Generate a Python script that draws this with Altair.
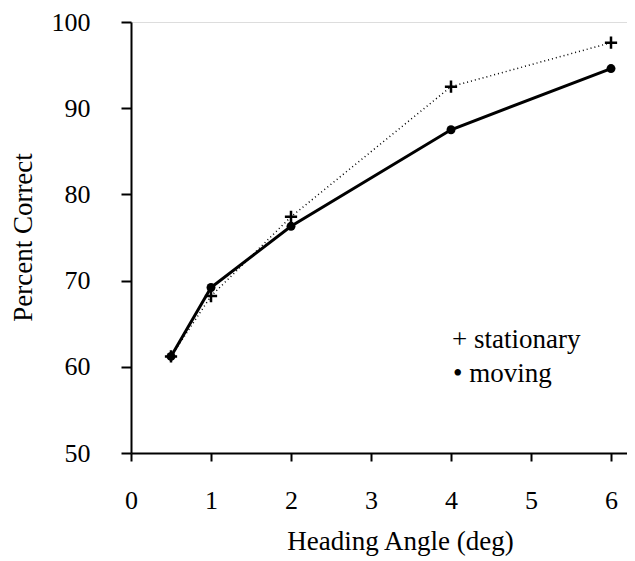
import altair as alt
import pandas as pd

angles = [0.5, 1, 2, 4, 6]
stationary = [61.2, 68.2, 77.4, 92.5, 97.6]
moving = [61.2, 69.2, 76.3, 87.5, 94.6]
x_ticks = [0, 1, 2, 3, 4, 5, 6]
y_ticks = [50, 60, 70, 80, 90, 100]

df = pd.DataFrame({"angle": angles, "stationary": stationary, "moving": moving})

FONT = "Liberation Serif"

x_enc = alt.X(
    "angle:Q",
    scale=alt.Scale(domain=[0, 6.2], nice=False, zero=False),
    axis=alt.Axis(
        values=x_ticks, title="Heading Angle (deg)", grid=False,
        tickSize=8, labelPadding=26, labelFontSize=26, labelFont=FONT,
        titleFont=FONT, titleFontSize=27, titleFontWeight="normal",
        titleX=269, titleY=96, titleAlign="center", titleBaseline="alphabetic",
        domainColor="black", tickColor="black", labelColor="black", titleColor="black",
        domainWidth=2, tickWidth=2, labelFlush=False,
    ),
)

def y_enc(field):
    return alt.Y(
        f"{field}:Q",
        scale=alt.Scale(domain=[50, 100], nice=False, zero=False),
        axis=alt.Axis(
            values=y_ticks, title="Percent Correct", grid=False,
            tickSize=10, labelPadding=31, labelFontSize=26, labelFont=FONT,
            titleFont=FONT, titleFontSize=27, titleFontWeight="normal",
            titleX=-108, titleY=215, titleAngle=-90, titleAlign="center",
            titleBaseline="middle",
            domainColor="black", tickColor="black", labelColor="black", titleColor="black",
            domainWidth=2, tickWidth=2, labelFlush=False,
        ),
    )

base = alt.Chart(df)

stat_line = base.mark_line(color="black", strokeWidth=1.5, strokeDash=[1, 3]).encode(
    x=x_enc, y=y_enc("stationary")
)
stat_pts = base.mark_point(
    shape="M-1,0L1,0M0,-1L0,1", filled=False, color="black", strokeWidth=2.5, size=150, opacity=1
).encode(x=x_enc, y=y_enc("stationary"))

mov_line = base.mark_line(color="black", strokeWidth=3).encode(x=x_enc, y=y_enc("moving"))
mov_pts = base.mark_point(shape="circle", filled=True, color="black", size=80, opacity=1).encode(
    x=x_enc, y=y_enc("moving")
)

legend1 = alt.Chart(pd.DataFrame({"label": ["+ stationary"]})).mark_text(
    font=FONT, fontSize=27, align="left", baseline="alphabetic", color="black"
).encode(text="label:N", x=alt.value(321), y=alt.value(326))
legend2 = alt.Chart(pd.DataFrame({"label": ["\u2022 moving"]})).mark_text(
    font=FONT, fontSize=27, align="left", baseline="alphabetic", color="black"
).encode(text="label:N", x=alt.value(322), y=alt.value(360))

chart = alt.layer(stat_line, mov_line, stat_pts, mov_pts, legend1, legend2).properties(
    width=496, height=431,
    autosize=alt.AutoSizeParams(type="none"),
    padding={"left": 123, "top": 14, "right": 0, "bottom": 106},
).configure_view(stroke=None).configure(background="white")

chart.save("out.html", embed_options={"renderer": "svg", "actions": False})
